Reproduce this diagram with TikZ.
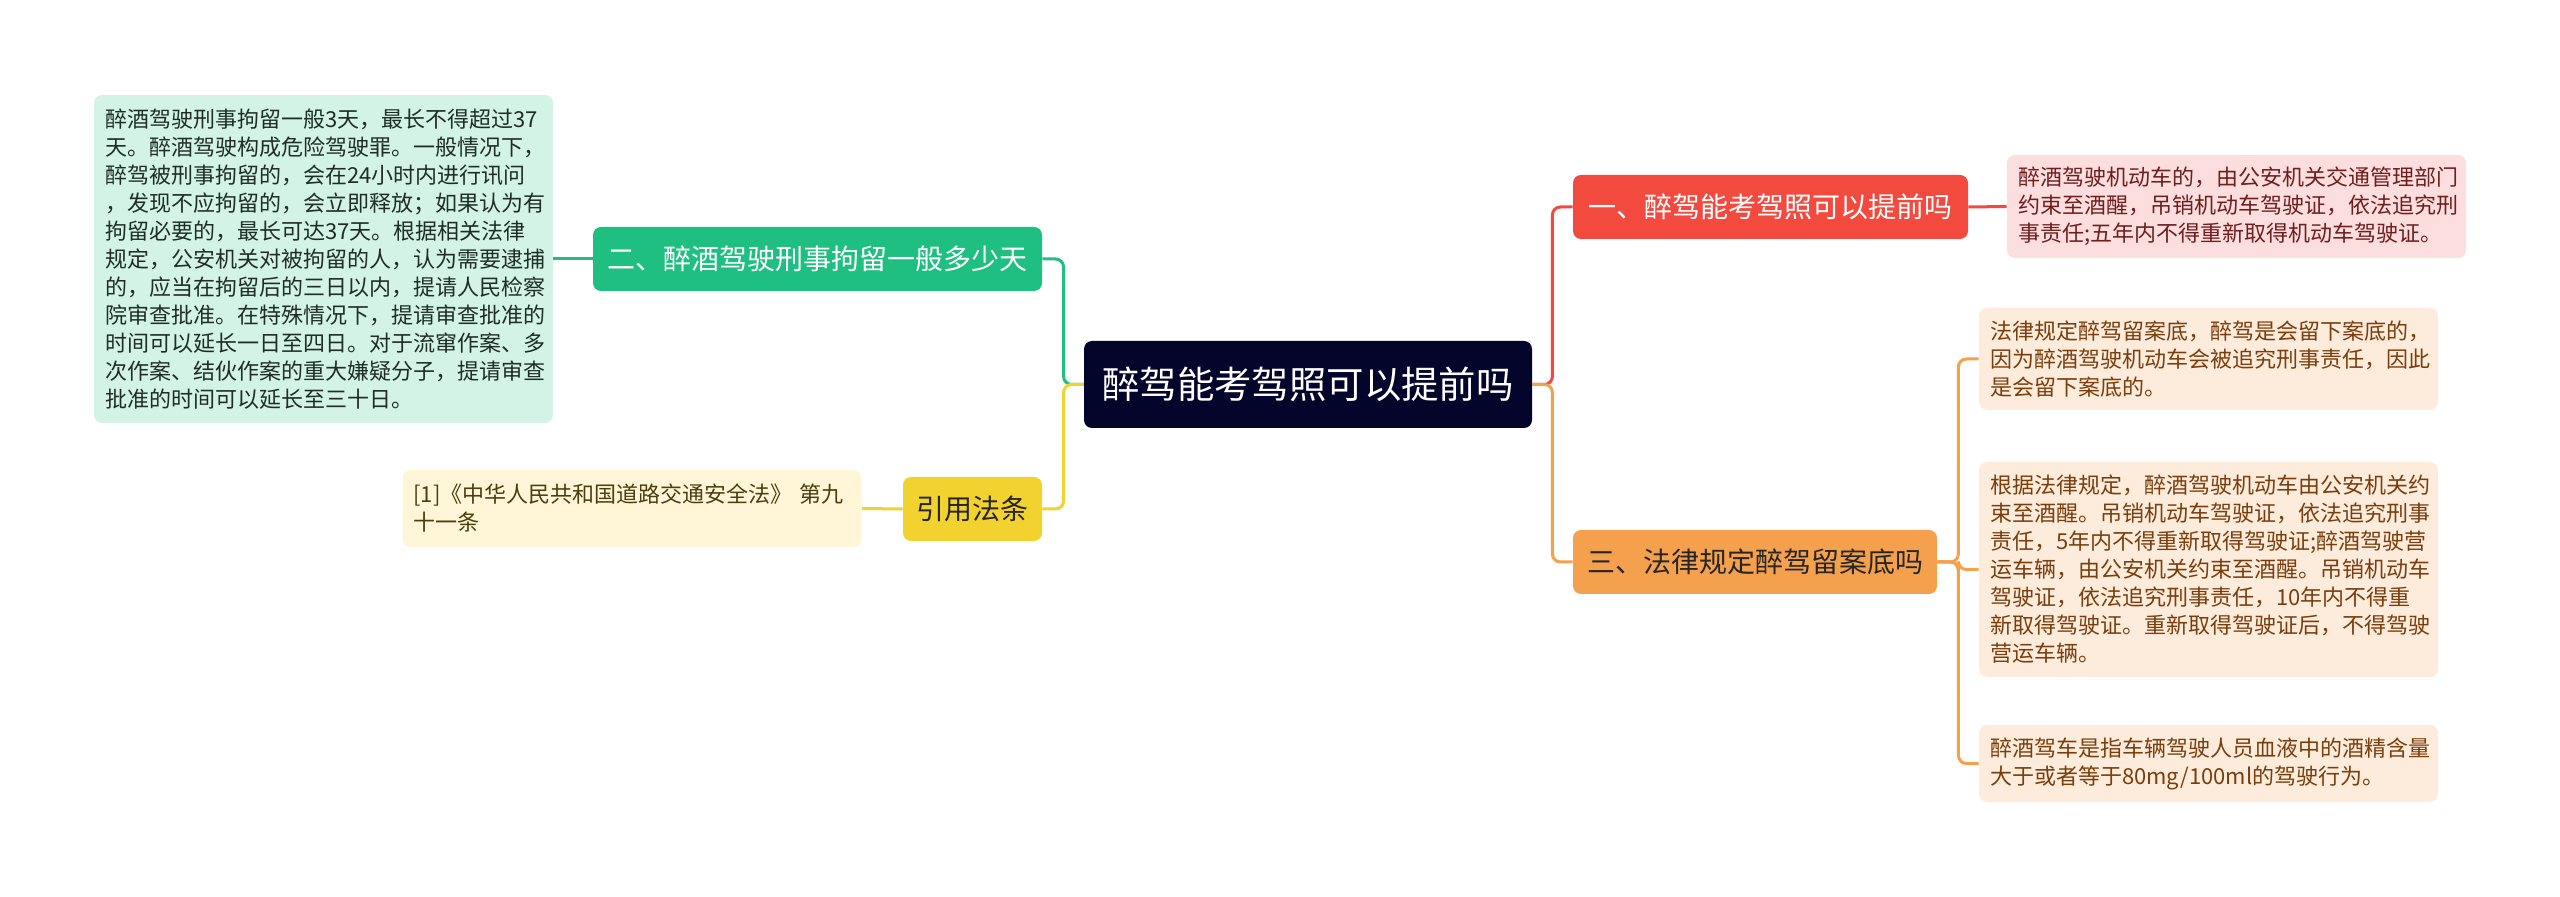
\documentclass[tikz,border=0pt]{standalone}
\usepackage{fontspec}
\setmainfont{Noto Sans CJK SC}
\definecolor{rootbg}{HTML}{03052A}
\definecolor{redc}{HTML}{F24A3F}
\definecolor{redleaf}{HTML}{FDDEDE}
\definecolor{redtxt}{HTML}{6E1E1E}
\definecolor{greenc}{HTML}{1FBF82}
\definecolor{greenleaf}{HTML}{D2F3E5}
\definecolor{greentxt}{HTML}{1E2E27}
\definecolor{yellowc}{HTML}{F2D22E}
\definecolor{yellowleaf}{HTML}{FEF6D6}
\definecolor{yellowtxt}{HTML}{4A3D10}
\definecolor{orangec}{HTML}{F5A04C}
\definecolor{orangeleaf}{HTML}{FDEBDC}
\definecolor{orangetxt}{HTML}{7A3E0C}
\begin{document}
\begin{tikzpicture}[x=0.5pt, y=-0.5pt,
root/.style={
        fill=rootbg,
        text=white,
        rounded corners=4pt,
        minimum width=224pt,
        minimum height=43.5pt,
        font=\fontsize{18.7pt}{22pt}\selectfont,
    },
topic/.style={
        rounded corners=4pt,
        minimum height=32pt,
        inner sep=0pt,
        font=\fontsize{14pt}{17pt}\selectfont,
    },
leaf/.style={
        rounded corners=4pt,
        align=left,
        text width=218.5pt,
        inner xsep=5.5pt,
        inner ysep=0pt,
        font=\fontsize{11pt}{14pt}\selectfont,
    },
link/.style={line width=1.5pt, rounded corners=4pt},
 ]
\useasboundingbox (0,0) rectangle (2560,897);

\node[root] (root) at (1308,384.5) {醉驾能考驾照可以提前吗};

% right side
\node[topic, fill=redc, text=white, minimum width=197.5pt] (first) at (1770.5,207) {一、醉驾能考驾照可以提前吗};
\node[topic, fill=orangec, text=black!85, minimum width=182pt] (third) at (1755,562) {三、法律规定醉驾留案底吗};

\node[leaf, fill=redleaf, text=redtxt, minimum height=51.5pt] (firstleaf) at (2236.5,206.5) {醉酒驾驶机动车的，由公安机关交通管理部门\\约束至酒醒，吊销机动车驾驶证，依法追究刑\\事责任;五年内不得重新取得机动车驾驶证。};

\node[leaf, fill=orangeleaf, text=orangetxt, minimum height=51pt] (thirdleafa) at (2208.5,359) {法律规定醉驾留案底，醉驾是会留下案底的，\\因为醉酒驾驶机动车会被追究刑事责任，因此\\是会留下案底的。};
\node[leaf, fill=orangeleaf, text=orangetxt, minimum height=107.5pt] (thirdleafb) at (2208.5,569.5) {根据法律规定，醉酒驾驶机动车由公安机关约\\束至酒醒。吊销机动车驾驶证，依法追究刑事\\责任，5年内不得重新取得驾驶证;醉酒驾驶营\\运车辆，由公安机关约束至酒醒。吊销机动车\\驾驶证，依法追究刑事责任，10年内不得重\\新取得驾驶证。重新取得驾驶证后，不得驾驶\\营运车辆。};
\node[leaf, fill=orangeleaf, text=orangetxt, minimum height=38.5pt] (thirdleafc) at (2208.5,763.5) {醉酒驾车是指车辆驾驶人员血液中的酒精含量\\大于或者等于80mg/100ml的驾驶行为。};

% left side
\node[topic, fill=greenc, text=white, minimum width=224.5pt] (second) at (817.5,259) {二、醉酒驾驶刑事拘留一般多少天};
\node[topic, fill=yellowc, text=black!85, minimum width=69.5pt] (cite) at (972.5,509) {引用法条};

\node[leaf, fill=greenleaf, text=greentxt, minimum height=164pt] (secondleaf) at (323.5,259) {醉酒驾驶刑事拘留一般3天，最长不得超过37\\天。醉酒驾驶构成危险驾驶罪。一般情况下，\\醉驾被刑事拘留的，会在24小时内进行讯问\\，发现不应拘留的，会立即释放；如果认为有\\拘留必要的，最长可达37天。根据相关法律\\规定，公安机关对被拘留的人，认为需要逮捕\\的，应当在拘留后的三日以内，提请人民检察\\院审查批准。在特殊情况下，提请审查批准的\\时间可以延长一日至四日。对于流窜作案、多\\次作案、结伙作案的重大嫌疑分子，提请审查\\批准的时间可以延长至三十日。};
\node[leaf, fill=yellowleaf, text=yellowtxt, minimum height=38.5pt] (citeleaf) at (632,508.5) {[1]《中华人民共和国道路交通安全法》 第九\\十一条};

% connectors
\draw[link, redc] (root.east) -- ++(20,0) |- (first.west);
\draw[link, orangec] (root.east) -- ++(20,0) |- (third.west);
\draw[link, greenc] (root.west) -- ++(-20,0) |- (second.east);
\draw[link, yellowc] (root.west) -- ++(-20,0) |- (cite.east);

\draw[link, redc] (first.east) -- (firstleaf.west);
\draw[link, orangec] (third.east) -- ++(21,0) |- (thirdleafa.west);
\draw[link, orangec] (third.east) -- ++(21,0) |- (thirdleafb.west);
\draw[link, orangec] (third.east) -- ++(21,0) |- (thirdleafc.west);
\draw[link, greenc] (second.west) -- (secondleaf.east);
\draw[link, yellowc] (cite.west) -- (citeleaf.east);
\end{tikzpicture}
\end{document}
